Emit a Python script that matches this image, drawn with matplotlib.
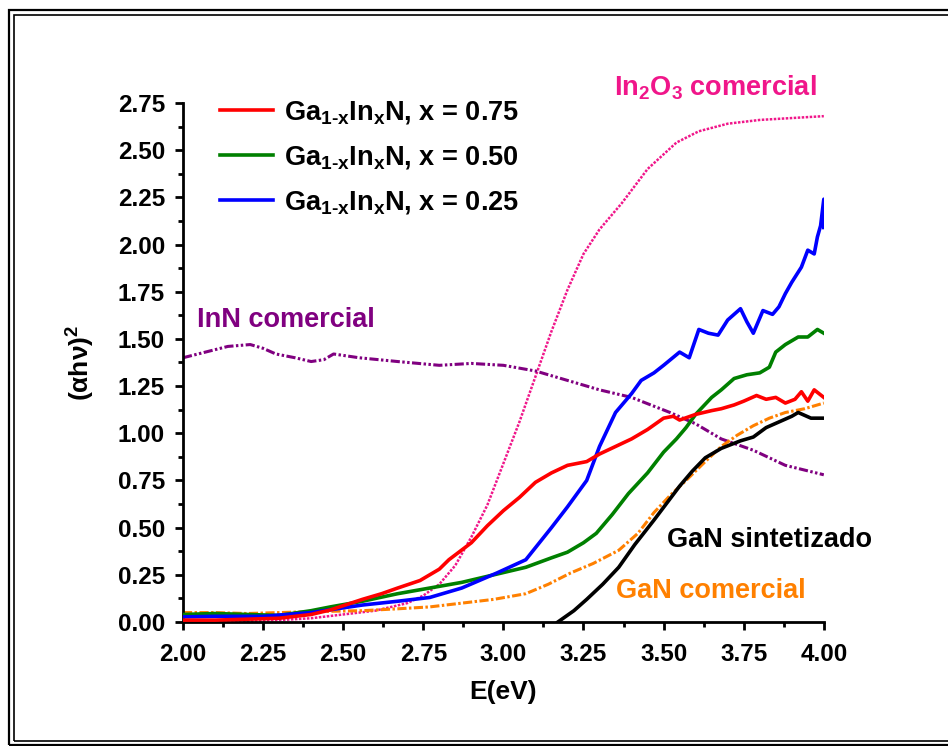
import numpy as np
import matplotlib.pyplot as plt
from matplotlib.patches import Rectangle
from matplotlib.ticker import MultipleLocator

plt.rcParams['font.family'] = ['Liberation Sans', 'DejaVu Sans']
plt.rcParams['font.weight'] = 'bold'
plt.rcParams['mathtext.fontset'] = 'custom'
plt.rcParams['mathtext.rm'] = 'Liberation Sans:bold'
plt.rcParams['mathtext.bf'] = 'Liberation Sans:bold'
plt.rcParams['mathtext.it'] = 'Liberation Sans:bold'

# ---- data ----
e_red = [2.00, 2.10, 2.20, 2.30, 2.40, 2.46, 2.56, 2.62, 2.67, 2.74, 2.80, 2.83, 2.90, 2.95, 3.00,
         3.05, 3.10, 3.15, 3.20, 3.26, 3.30, 3.35, 3.40, 3.45, 3.50, 3.53, 3.55, 3.60, 3.65,
         3.68, 3.72, 3.75, 3.79, 3.82, 3.85, 3.88, 3.91, 3.93, 3.95, 3.97, 4.00]
v_red = [0.01, 0.01, 0.015, 0.02, 0.04, 0.064, 0.12, 0.15, 0.18, 0.22, 0.28, 0.33, 0.42, 0.51, 0.59,
         0.66, 0.74, 0.79, 0.83, 0.85, 0.89, 0.93, 0.97, 1.02, 1.08, 1.09, 1.07, 1.10, 1.12,
         1.13, 1.15, 1.17, 1.20, 1.18, 1.19, 1.16, 1.18, 1.22, 1.17, 1.23, 1.19]

e_green = [2.00, 2.10, 2.20, 2.30, 2.40, 2.46, 2.56, 2.67, 2.77, 2.87, 2.97, 3.07, 3.15, 3.20, 3.25,
           3.29, 3.34, 3.39, 3.45, 3.50, 3.54, 3.57, 3.60, 3.65, 3.68, 3.72, 3.76, 3.80, 3.83,
           3.85, 3.88, 3.92, 3.95, 3.98, 4.00]
v_green = [0.04, 0.045, 0.04, 0.035, 0.06, 0.08, 0.11, 0.15, 0.18, 0.21, 0.25, 0.29, 0.34, 0.37, 0.42,
           0.47, 0.57, 0.68, 0.79, 0.90, 0.97, 1.03, 1.10, 1.19, 1.23, 1.29, 1.31, 1.32, 1.35,
           1.43, 1.47, 1.51, 1.51, 1.55, 1.53]

e_blue = [2.00, 2.10, 2.25, 2.40, 2.56, 2.67, 2.77, 2.87, 2.98, 3.07, 3.15, 3.20, 3.26, 3.30, 3.35,
          3.40, 3.43, 3.47, 3.50, 3.55, 3.58, 3.61, 3.64, 3.67, 3.70, 3.74, 3.76, 3.78, 3.81,
          3.84, 3.86, 3.88, 3.90, 3.93, 3.95, 3.97, 3.98, 3.99, 4.00, 4.00]
v_blue = [0.027, 0.03, 0.03, 0.05, 0.09, 0.11, 0.13, 0.18, 0.26, 0.33, 0.50, 0.61, 0.75, 0.93, 1.11,
          1.21, 1.28, 1.32, 1.36, 1.43, 1.40, 1.55, 1.53, 1.52, 1.60, 1.66, 1.59, 1.53, 1.65,
          1.63, 1.67, 1.74, 1.80, 1.88, 1.97, 1.95, 2.04, 2.10, 2.24, 2.09]

e_black = [3.17, 3.22, 3.26, 3.31, 3.36, 3.41, 3.47, 3.51, 3.55, 3.59, 3.63, 3.68, 3.74, 3.78,
           3.82, 3.86, 3.90, 3.92, 3.96, 4.00]
v_black = [0.00, 0.06, 0.12, 0.20, 0.29, 0.41, 0.54, 0.63, 0.72, 0.80, 0.87, 0.92, 0.96, 0.98,
           1.03, 1.06, 1.09, 1.11, 1.08, 1.08]

e_orange = [2.00, 2.10, 2.20, 2.30, 2.40, 2.56, 2.67, 2.77, 2.87, 2.97, 3.07, 3.14, 3.21, 3.28,
            3.36, 3.42, 3.47, 3.52, 3.57, 3.63, 3.68, 3.73, 3.78, 3.83, 3.88, 3.94, 4.00]
v_orange = [0.05, 0.05, 0.045, 0.05, 0.055, 0.06, 0.07, 0.08, 0.10, 0.12, 0.15, 0.20, 0.26, 0.31,
            0.38, 0.47, 0.58, 0.67, 0.75, 0.85, 0.93, 0.99, 1.04, 1.08, 1.11, 1.13, 1.16]

e_pink = [2.00, 2.10, 2.20, 2.30, 2.40, 2.50, 2.60, 2.70, 2.75, 2.80, 2.85, 2.90, 2.95, 3.00,
          3.05, 3.10, 3.15, 3.20, 3.25, 3.30, 3.37, 3.45, 3.54, 3.61, 3.70, 3.80, 3.90, 4.00]
v_pink = [0.00, 0.00, 0.005, 0.01, 0.02, 0.04, 0.06, 0.10, 0.14, 0.20, 0.30, 0.45, 0.62, 0.84,
          1.06, 1.30, 1.54, 1.76, 1.95, 2.08, 2.22, 2.40, 2.54, 2.60, 2.64, 2.66, 2.67, 2.68]

e_purple = [2.00, 2.07, 2.14, 2.21, 2.25, 2.29, 2.35, 2.40, 2.44, 2.47, 2.55, 2.67, 2.80, 2.90,
            3.00, 3.10, 3.20, 3.30, 3.40, 3.52, 3.60, 3.68, 3.78, 3.88, 4.00]
v_purple = [1.40, 1.43, 1.46, 1.47, 1.45, 1.42, 1.40, 1.38, 1.39, 1.42, 1.40, 1.38, 1.36, 1.37,
            1.36, 1.33, 1.28, 1.23, 1.19, 1.11, 1.05, 0.97, 0.91, 0.83, 0.78]

labels = [r'Ga$_{\mathbf{1\text{-}x}}$In$_{\mathbf{x}}$N, x = 0.75',
          r'Ga$_{\mathbf{1\text{-}x}}$In$_{\mathbf{x}}$N, x = 0.50',
          r'Ga$_{\mathbf{1\text{-}x}}$In$_{\mathbf{x}}$N, x = 0.25']

# ---- figure ----
fig = plt.figure(figsize=(9.48, 7.46), dpi=100)
ax = fig.add_axes([0.193, 0.1662, 0.676, 0.6958])

# double frame around the whole picture
fig.patches.append(Rectangle((8.5 / 948, 1 / 746), 2, 735 / 746, transform=fig.transFigure,
                             fill=False, lw=1.6, ec='black'))
fig.patches.append(Rectangle((14 / 948, 5 / 746), 2, 726 / 746, transform=fig.transFigure,
                             fill=False, lw=1.2, ec='black'))

ax.plot(e_pink, v_pink, color='#F0168A', lw=1.8, ls=(0, (1, 0.6)), zorder=2)
ax.plot(e_purple, v_purple, color='#800080', lw=2.2, ls=(0, (3, 0.8, 0.8, 0.8, 0.8, 0.8)), zorder=2)
ax.plot(e_orange, v_orange, color='#FF8000', lw=2.2, ls=(0, (3, 0.8, 0.8, 0.8)), zorder=2)
ax.plot(e_black, v_black, color='black', lw=2.6, zorder=3)
l1, = ax.plot(e_red, v_red, color='red', lw=2.6, zorder=4)
l2, = ax.plot(e_green, v_green, color='#008000', lw=2.6, zorder=3)
l3, = ax.plot(e_blue, v_blue, color='blue', lw=2.6, zorder=3)

ax.set_xlim(2.0, 4.0)
ax.set_ylim(0.0, 2.75)
ax.xaxis.set_major_locator(MultipleLocator(0.25))
ax.xaxis.set_minor_locator(MultipleLocator(0.125))
ax.yaxis.set_major_locator(MultipleLocator(0.25))
ax.yaxis.set_minor_locator(MultipleLocator(0.125))
ax.xaxis.set_major_formatter(plt.FormatStrFormatter('%.2f'))
ax.yaxis.set_major_formatter(plt.FormatStrFormatter('%.2f'))

for s in ['top', 'right']:
    ax.spines[s].set_visible(False)
for s in ['left', 'bottom']:
    ax.spines[s].set_linewidth(2.0)

ax.tick_params(which='major', direction='out', length=6, width=2, labelsize=17.5)
ax.tick_params(which='minor', direction='out', length=3.5, width=2)
ax.tick_params(axis='x', which='major', pad=9)
ax.tick_params(axis='y', which='major', pad=7)

ax.set_xlabel('E(eV)', fontsize=19, fontweight='bold', labelpad=10)
ax.set_ylabel(r'($\alpha$h$\nu$)$^{\mathbf{2}}$', fontsize=19, fontweight='bold', labelpad=15)

ax.legend([l1, l2, l3], labels, loc='upper left', bbox_to_anchor=(0.02, 1.055),
          frameon=False, fontsize=19.5, handlelength=1.95, handletextpad=0.4,
          labelspacing=0.66)

ax.text(3.66, 2.83, r'In$_{\mathbf{2}}$O$_{\mathbf{3}}$ comercial', color='#F0168A',
        fontsize=19.5, fontweight='bold', ha='center', va='center')
ax.text(2.044, 1.60, 'InN comercial', color='#800080', fontsize=19.5, fontweight='bold',
        ha='left', va='center')
ax.text(3.51, 0.435, 'GaN sintetizado', color='black', fontsize=19.5, fontweight='bold',
        ha='left', va='center')
ax.text(3.35, 0.165, 'GaN comercial', color='#FF8000', fontsize=19.5, fontweight='bold',
        ha='left', va='center')

fig.savefig('out.png', dpi=100)
